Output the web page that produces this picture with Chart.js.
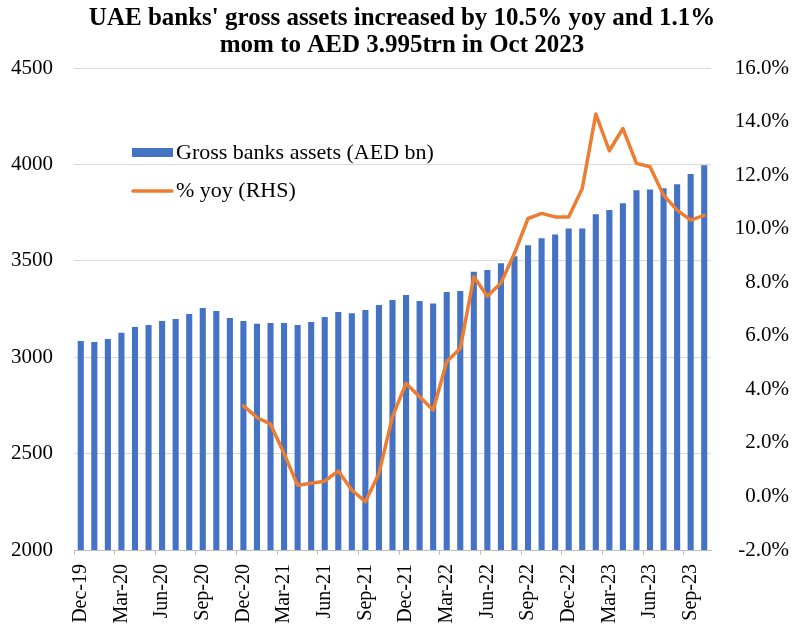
<!DOCTYPE html>
<html>
<head>
<meta charset="utf-8">
<script src="https://cdn.jsdelivr.net/npm/chart.js@4.4.0/dist/chart.umd.min.js"></script>
<style>
  html, body { margin: 0; padding: 0; background: #ffffff; }
  #wrap { width: 807px; height: 636px; position: relative; }
</style>
</head>
<body>
<div id="wrap"><canvas id="c" width="807" height="636"></canvas></div>
<script>
const titleLines = ["UAE banks' gross assets increased by 10.5% yoy and 1.1%", "mom to AED 3.995trn in Oct 2023"];

const categories = [
  'Dec-19','Jan-20','Feb-20','Mar-20','Apr-20','May-20','Jun-20','Jul-20','Aug-20','Sep-20','Oct-20','Nov-20',
  'Dec-20','Jan-21','Feb-21','Mar-21','Apr-21','May-21','Jun-21','Jul-21','Aug-21','Sep-21','Oct-21','Nov-21',
  'Dec-21','Jan-22','Feb-22','Mar-22','Apr-22','May-22','Jun-22','Jul-22','Aug-22','Sep-22','Oct-22','Nov-22',
  'Dec-22','Jan-23','Feb-23','Mar-23','Apr-23','May-23','Jun-23','Jul-23','Aug-23','Sep-23','Oct-23'
];

const grossAssets = [
  3084, 3079, 3094, 3127, 3157, 3167, 3188, 3198, 3224, 3255, 3240, 3203,
  3188, 3174, 3177, 3177, 3167, 3182, 3208, 3234, 3228, 3245, 3271, 3297,
  3323, 3292, 3279, 3338, 3343, 3443, 3452, 3487, 3523, 3581, 3617, 3636,
  3668, 3668, 3741, 3763, 3799, 3866, 3870, 3876, 3897, 3950, 3995
];

const yoyPct = [
  null, null, null, null, null, null, null, null, null, null, null, null,
  3.38, 2.95, 2.70, 1.60, 0.42, 0.49, 0.57, 0.95, 0.24, -0.20, 0.86, 2.98,
  4.22, 3.72, 3.23, 5.03, 5.53, 8.20, 7.48, 7.97, 9.08, 10.38, 10.57, 10.44,
  10.44, 11.50, 14.28, 12.91, 13.74, 12.44, 12.31, 11.25, 10.69, 10.32, 10.50
];

const leftTicks = [2000, 2500, 3000, 3500, 4000, 4500];
const rightTicks = [-2, 0, 2, 4, 6, 8, 10, 12, 14, 16];

const seriesNames = ['Gross banks assets (AED bn)', '% yoy (RHS)'];

const FONT = "'Liberation Serif', 'Times New Roman', serif";
const BLUE = '#4472C4';
const ORANGE = '#ED7D31';

const titlePlugin = {
  id: 'customTitle',
  afterDraw(chart) {
    const ctx = chart.ctx;
    ctx.save();
    ctx.fillStyle = '#000';
    ctx.font = 'bold 25px ' + FONT;
    ctx.textAlign = 'center';
    ctx.textBaseline = 'alphabetic';
    ctx.fillText(titleLines[0], 402, 25);
    ctx.fillText(titleLines[1], 402, 52);
    ctx.restore();
  }
};

const legendPlugin = {
  id: 'customLegend',
  afterDatasetsDraw(chart) {
    const ctx = chart.ctx;
    const barDs = chart.data.datasets.find(d => d.type === 'bar');
    const lineDs = chart.data.datasets.find(d => d.type === 'line');
    ctx.save();
    ctx.font = '22px ' + FONT;
    ctx.textBaseline = 'middle';
    ctx.textAlign = 'left';
    // bar entry
    ctx.fillStyle = barDs.backgroundColor;
    ctx.fillRect(132, 148, 41, 9);
    ctx.fillStyle = '#000';
    ctx.fillText(barDs.label, 176, 153);
    // line entry
    ctx.strokeStyle = lineDs.borderColor;
    ctx.lineWidth = 3.5;
    ctx.lineCap = 'round';
    ctx.beginPath();
    ctx.moveTo(133, 191);
    ctx.lineTo(172, 191);
    ctx.stroke();
    ctx.fillStyle = '#000';
    ctx.fillText(lineDs.label, 176, 191);
    ctx.restore();
  }
};

new Chart(document.getElementById('c'), {
  type: 'bar',
  data: {
    labels: categories,
    datasets: [
      {
        type: 'bar',
        label: seriesNames[0],
        data: grossAssets,
        yAxisID: 'y',
        backgroundColor: BLUE,
        borderWidth: 0,
        barPercentage: 0.45,
        categoryPercentage: 1.0,
        order: 1
      },
      {
        type: 'line',
        label: seriesNames[1],
        data: yoyPct,
        yAxisID: 'y2',
        borderColor: ORANGE,
        backgroundColor: ORANGE,
        borderWidth: 3.5,
        pointRadius: 0,
        tension: 0,
        spanGaps: false,
        borderJoinStyle: 'round',
        borderCapStyle: 'round',
        order: 0
      }
    ]
  },
  options: {
    responsive: false,
    animation: false,
    devicePixelRatio: 1,
    layout: { padding: { top: 68, left: 0, right: 18, bottom: 0 } },
    plugins: {
      legend: { display: false },
      title: { display: false },
      tooltip: { enabled: false }
    },
    scales: {
      x: {
        type: 'category',
        offset: true,
        border: { display: true, color: '#bfbfbf', width: 1 },
        grid: {
          display: true,
          offset: true,
          drawOnChartArea: false,
          drawTicks: true,
          tickLength: 5,
          tickColor: (c) => (c.index % 3 === 0 ? '#bfbfbf' : 'rgba(0,0,0,0)')
        },
        ticks: {
          autoSkip: false,
          maxRotation: 90,
          minRotation: 90,
          padding: 9,
          color: '#000',
          font: { family: FONT, size: 20 },
          callback: function (value, index) {
            return index % 3 === 0 ? categories[index] : '';
          }
        },
        afterFit(scale) { scale.height = 86; }
      },
      y: {
        type: 'linear',
        position: 'left',
        min: leftTicks[0],
        max: leftTicks[leftTicks.length - 1],
        border: { display: false },
        grid: { color: '#d9d9d9', lineWidth: 1, drawTicks: false },
        afterBuildTicks(scale) { scale.ticks = leftTicks.map(v => ({ value: v })); },
        ticks: {
          padding: 21,
          color: '#000',
          font: { family: FONT, size: 21 },
          callback: (v) => String(v)
        },
        afterFit(scale) { scale.width = 74; }
      },
      y2: {
        type: 'linear',
        position: 'right',
        min: rightTicks[0],
        max: rightTicks[rightTicks.length - 1],
        border: { display: false },
        grid: { display: false, drawTicks: false },
        afterBuildTicks(scale) { scale.ticks = rightTicks.map(v => ({ value: v })); },
        ticks: {
          padding: 4,
          crossAlign: 'far',
          color: '#000',
          font: { family: FONT, size: 21 },
          callback: (v) => Number(v).toFixed(1) + '%'
        },
        afterFit(scale) { scale.width = 78; }
      }
    }
  },
  plugins: [titlePlugin, legendPlugin]
});
</script>
</body>
</html>
